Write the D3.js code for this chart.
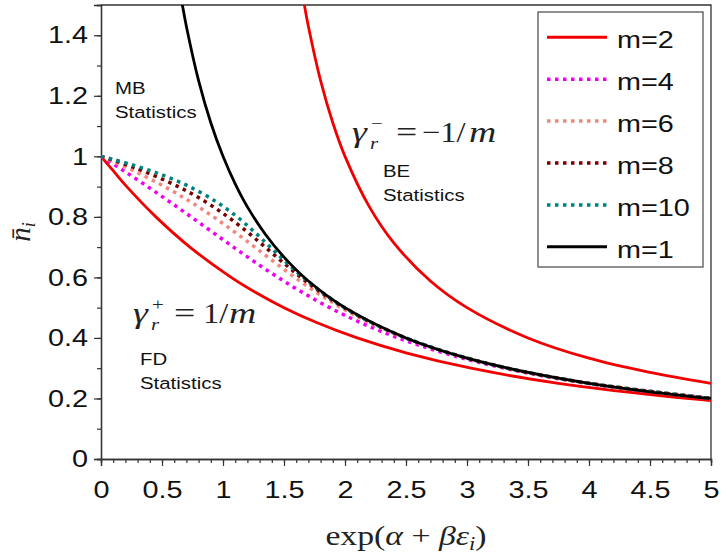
<!DOCTYPE html>
<html>
<head>
<meta charset="utf-8">
<script src="https://cdn.jsdelivr.net/npm/d3@7"></script>
<style>
  body { margin: 0; background: #fff; }
  svg { display: block; }
</style>
</head>
<body>
<div class="chart"></div>
<script>
var width = 728, height = 555;
var plot = {left: 101, right: 711, top: 5, bottom: 459};
var sx = 1.2; // the original picture is a bit stretched sideways

// curves: x = exp(alpha + beta*eps), y = mean occupation
var fdX  = [0, 0.105, 0.211, 0.45, 0.729, 1.067, 1.268, 1.5, 1.772, 2.1, 2.507, 3.033, 3.75, 4.8, 5.0];
var fdY  = [1, 0.95, 0.9, 0.8, 0.7, 0.6, 0.55, 0.5, 0.45, 0.4, 0.35, 0.3, 0.25, 0.2, 0.193];
var beX  = [1.6, 1.667, 1.7, 1.8, 1.9, 2, 2.2, 2.4, 2.7, 3, 3.5, 4, 4.5, 5];
var beY  = [1.667, 1.5, 1.429, 1.25, 1.111, 1, 0.833, 0.714, 0.588, 0.5, 0.4, 0.333, 0.286, 0.25];
var m4X  = [0, 0.04, 0.195, 0.382, 0.562, 0.738, 0.912, 1.086, 1.264, 1.451, 1.652, 1.875, 2.131, 2.436, 2.814, 3.306, 3.984, 5.0];
var m4Y  = [1, 0.99, 0.95, 0.9, 0.85, 0.8, 0.75, 0.7, 0.65, 0.6, 0.55, 0.5, 0.45, 0.4, 0.35, 0.3, 0.25, 0.2];
var m6X  = [0, 0.059, 0.279, 0.521, 0.733, 0.922, 1.096, 1.261, 1.423, 1.589, 1.768, 1.969, 2.204, 2.49, 2.852, 3.331, 4.0, 5.0];
var m6Y  = [1, 0.99, 0.95, 0.9, 0.85, 0.8, 0.75, 0.7, 0.65, 0.6, 0.55, 0.5, 0.45, 0.4, 0.35, 0.3, 0.25, 0.2];
var m8X  = [0, 0.078, 0.223, 0.354, 0.633, 0.856, 1.04, 1.2, 1.346, 1.49, 1.639, 1.803, 1.992, 2.219, 2.498, 2.857, 3.333, 4.0, 5.0];
var m8Y  = [1, 0.99, 0.97, 0.95, 0.9, 0.85, 0.8, 0.75, 0.7, 0.65, 0.6, 0.55, 0.5, 0.45, 0.4, 0.35, 0.3, 0.25, 0.2];
var m10X = [0, 0.097, 0.271, 0.422, 0.555, 0.724, 0.945, 1.116, 1.258, 1.388, 1.518, 1.657, 1.814, 1.998, 2.221, 2.5, 2.857, 3.333, 4.0, 5.0];
var m10Y = [1, 0.99, 0.97, 0.95, 0.93, 0.9, 0.85, 0.8, 0.75, 0.7, 0.65, 0.6, 0.55, 0.5, 0.45, 0.4, 0.35, 0.3, 0.25, 0.2];
var mbX  = [0.62, 0.667, 0.7, 0.8, 0.9, 1, 1.1, 1.2, 1.35, 1.5, 1.7, 2, 2.5, 3, 3.5, 4, 4.5, 5];
var mbY  = [1.613, 1.5, 1.429, 1.25, 1.111, 1, 0.909, 0.833, 0.741, 0.667, 0.588, 0.5, 0.4, 0.333, 0.286, 0.25, 0.222, 0.2];

var xTicks = [0, 0.5, 1, 1.5, 2, 2.5, 3, 3.5, 4, 4.5, 5];
var xTickLabels = ["0", "0.5", "1", "1.5", "2", "2.5", "3", "3.5", "4", "4.5", "5"];
var yTicks = [0, 0.2, 0.4, 0.6, 0.8, 1, 1.2, 1.4];
var yTickLabels = ["0", "0.2", "0.4", "0.6", "0.8", "1", "1.2", "1.4"];
var legendLabels = ["m=2", "m=4", "m=6", "m=8", "m=10", "m=1"];

var series = [
  {x: fdX,  y: fdY,  color: "#f20000", dash: null},
  {x: m4X,  y: m4Y,  color: "#f000f0", dash: "3.5,4.5"},
  {x: m6X,  y: m6Y,  color: "#f08880", dash: "3.5,4.5"},
  {x: m8X,  y: m8Y,  color: "#7a0000", dash: "3.5,4.5"},
  {x: m10X, y: m10Y, color: "#00827e", dash: "3.5,4.5"},
  {x: mbX,  y: mbY,  color: "#000000", dash: null},
  {x: beX,  y: beY,  color: "#f20000", dash: null}
];
var legendStyle = [series[0], series[1], series[2], series[3], series[4], series[5]];

var svg = d3.select(".chart")
  .append("svg")
    .attr("width", width)
    .attr("height", height);

var x = d3.scaleLinear().domain([0, 5]).range([plot.left, plot.right]);
var y = d3.scaleLinear().domain([0, 1.5]).range([plot.bottom, plot.top]);

svg.append("clipPath").attr("id", "clip")
  .append("rect")
    .attr("x", plot.left).attr("y", plot.top)
    .attr("width", plot.right - plot.left).attr("height", plot.bottom - plot.top);

// frame top and right
svg.append("path")
  .attr("d", "M" + plot.left + "," + plot.top + "H" + plot.right + "V" + plot.bottom)
  .style("fill", "none")
  .style("stroke", "#333")
  .style("stroke-width", 1.3);

// minor ticks
var xAxisMinor = d3.axisBottom(x).tickValues(d3.range(0, 5.01, 0.1)).tickSize(4).tickFormat("");
var yAxisMinor = d3.axisLeft(y).tickValues(d3.range(0, 1.51, 0.1)).tickSize(4).tickFormat("");
svg.append("g").attr("transform", "translate(0," + plot.bottom + ")").call(xAxisMinor);
svg.append("g").attr("transform", "translate(" + plot.left + ",0)").call(yAxisMinor);

var xAxis = d3.axisBottom(x).tickValues(xTicks).tickSize(7).tickPadding(15)
  .tickFormat(function(d, i) { return xTickLabels[i]; });
var yAxis = d3.axisLeft(y).tickValues(yTicks).tickSize(7).tickPadding(12)
  .tickFormat(function(d, i) { return yTickLabels[i]; });

var gx = svg.append("g").attr("transform", "translate(0," + plot.bottom + ")").call(xAxis);
var gy = svg.append("g").attr("transform", "translate(" + plot.left + ",0)").call(yAxis);

svg.selectAll(".domain").style("stroke", "#333").style("stroke-width", 1.3);
svg.selectAll(".tick line").style("stroke", "#333").style("stroke-width", 1.2);
svg.selectAll(".tick text")
  .style("font-family", "'Liberation Sans', Arial, sans-serif")
  .style("font-size", "24px")
  .style("fill", "#111");
gx.selectAll(".tick text").attr("transform", "scale(" + sx + ",1)");
gy.selectAll(".tick text").attr("x", -13 / sx).attr("transform", "scale(" + sx + ",1)");

// curves
var line = d3.line()
  .x(function(d) { return x(d[0]); })
  .y(function(d) { return y(d[1]); })
  .curve(d3.curveCatmullRom);

var curves = svg.append("g").attr("clip-path", "url(#clip)");
series.forEach(function(s) {
  var pts = s.x.map(function(v, i) { return [v, s.y[i]]; });
  curves.append("path")
    .attr("d", line(pts))
    .style("fill", "none")
    .style("stroke", s.color)
    .style("stroke-width", s.dash ? 3.5 : 2.8)
    .style("stroke-dasharray", s.dash);
});

// legend
var legend = svg.append("g");
legend.append("rect")
  .attr("x", 538).attr("y", 12)
  .attr("width", 165).attr("height", 255)
  .style("fill", "#fff")
  .style("stroke", "#555")
  .style("stroke-width", 1.3);
legendLabels.forEach(function(label, i) {
  var ly = 37.3 + i * 41.9;
  var s = legendStyle[i];
  legend.append("line")
    .attr("x1", 547).attr("x2", 607)
    .attr("y1", ly).attr("y2", ly)
    .style("stroke", s.color)
    .style("stroke-width", s.dash ? 3.5 : 3)
    .style("stroke-dasharray", s.dash);
  legend.append("text")
    .attr("transform", "translate(617," + (ly + 11) + ") scale(" + sx + ",1)")
    .style("font-family", "'Liberation Sans', Arial, sans-serif")
    .style("font-size", "24px")
    .style("fill", "#111")
    .text(label);
});

// plain annotations
function note(px, py, lines) {
  lines.forEach(function(t, i) {
    svg.append("text")
      .attr("transform", "translate(" + px + "," + (py + i * 24) + ") scale(" + sx + ",1)")
      .style("font-family", "'Liberation Sans', Arial, sans-serif")
      .style("font-size", "17px")
      .style("fill", "#111")
      .text(t);
  });
}
note(115, 94, ["MB", "Statistics"]);
note(140, 365, ["FD", "Statistics"]);
note(383, 177, ["BE", "Statistics"]);

// math labels, each glyph placed on its own like TeX output
var serif = "'Liberation Serif', 'DejaVu Serif', serif";
function glyph(g, gx0, gy0, size, italic, t, k) {
  g.append("text")
    .attr("transform", "translate(" + gx0 + "," + gy0 + ") scale(" + (k || 1.3) + ",1)")
    .style("font-family", serif)
    .style("font-size", size + "px")
    .style("font-style", italic ? "italic" : "normal")
    .style("fill", "#222")
    .text(t);
}
function gammaLabel(px, py, sign, parts) {
  var g = svg.append("g").attr("transform", "translate(" + px + "," + py + ")");
  glyph(g, 0, 0, 29, true, "\u03b3");
  glyph(g, 19, -13, 16, false, sign);
  glyph(g, 18, 7, 16, true, "r");
  parts.forEach(function(p) { glyph(g, p[0], 0, 29, p[2], p[1], p[3]); });
}
gammaLabel(352, 142, "\u2212", [[44, "=", false], [70, "\u22121/", false, 1.12], [117, "m", true]]);
gammaLabel(133, 323, "+", [[41, "=", false], [70, "1/", false, 1.12], [96, "m", true]]);

// x label
var xl = svg.append("text")
  .attr("transform", "translate(406,545) scale(1.25,1)")
  .attr("text-anchor", "middle")
  .style("font-family", serif).style("font-size", "27px").style("fill", "#222");
xl.append("tspan").text("exp(");
xl.append("tspan").style("font-style", "italic").text("\u03b1");
xl.append("tspan").text(" + ");
xl.append("tspan").style("font-style", "italic").text("\u03b2\u03b5");
xl.append("tspan").style("font-style", "italic").style("font-size", "18px").attr("dy", 5).text("i");
xl.append("tspan").attr("dy", -5).text(")");

// y label
var yl = svg.append("text")
  .attr("transform", "translate(30,232) rotate(-90)")
  .attr("text-anchor", "middle")
  .style("font-family", serif).style("font-size", "29px").style("fill", "#222");
yl.append("tspan").style("font-style", "italic").text("n\u0304");
yl.append("tspan").style("font-style", "italic").style("font-size", "18px").attr("dy", 5).text("i");
</script>
</body>
</html>
